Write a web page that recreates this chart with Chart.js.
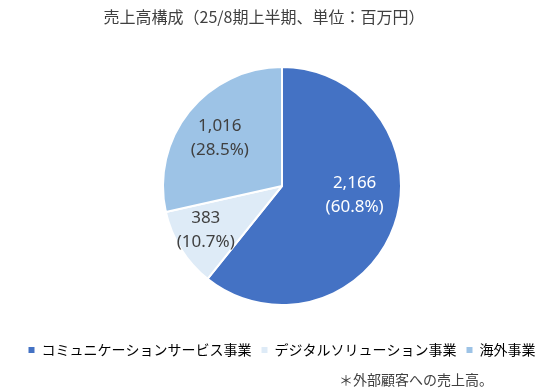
<!DOCTYPE html>
<html lang="ja">
<head>
<meta charset="UTF-8">
<title>売上高構成</title>
<script src="https://cdn.jsdelivr.net/npm/chart.js"></script>
<style>
  body { margin: 0; background: #ffffff; }
</style>
</head>
<body>
<canvas id="salesChart" width="547" height="391"></canvas>
<script>
// データ（百万円）
var segments = ['コミュニケーションサービス事業', 'デジタルソリューション事業', '海外事業'];
var sales = [2166, 383, 1016];
var shares = [60.8, 10.7, 28.5];
var colors = ['#4472C4', '#DEEBF7', '#9DC3E6'];
var titleText = '売上高構成（25/8期上半期、単位：百万円）';
var noteText = '＊外部顧客への売上高。';

var jpFont = '"Noto Sans CJK JP", "Noto Sans", sans-serif';
var textColor = '#404040';

// ラベルの置き場所: 半径の比率 r と扇形の角度の比率 t
var labelPlace = [{r: 0.615, t: 0.444}, {r: 0.74, t: 0.55}, {r: 0.66, t: 0.49}];
var labelColors = ['#ffffff', '#404040', '#404040'];

// タイトル・データラベル・注記を描くプラグイン
var textPlugin = {
    id: 'textPlugin',
    afterDatasetsDraw: function(chart) {
        var ctx = chart.ctx;
        var arcs = chart.getDatasetMeta(0).data;
        ctx.save();
        ctx.textAlign = 'center';
        ctx.textBaseline = 'middle';
        ctx.font = '17px "Noto Sans", sans-serif';
        arcs.forEach(function(arc, i) {
            var p = labelPlace[i];
            var a = arc.startAngle + (arc.endAngle - arc.startAngle) * p.t;
            var r = arc.outerRadius * p.r;
            var x = arc.x + Math.cos(a) * r;
            var y = arc.y + Math.sin(a) * r;
            ctx.fillStyle = labelColors[i];
            ctx.fillText(sales[i].toLocaleString('en-US'), x, y - 12);
            ctx.fillText('(' + shares[i].toFixed(1) + '%)', x, y + 12);
        });

        ctx.fillStyle = textColor;
        ctx.font = '16px ' + jpFont;
        ctx.fillText(titleText, 264, 17);

        ctx.textAlign = 'left';
        ctx.font = '14px ' + jpFont;
        ctx.fillText(noteText, 339, 380);
        ctx.restore();
    }
};

var ctx = document.getElementById('salesChart').getContext('2d');
var chart = new Chart(ctx, {
    type: 'pie',
    data: {
        labels: segments,
        datasets: [{
            data: sales,
            backgroundColor: colors,
            borderColor: '#ffffff',
            borderWidth: 2,
            hoverOffset: 0
        }]
    },
    options: {
        responsive: false,
        animation: false,
        events: [],
        radius: 119,
        layout: {
            padding: {top: 39, bottom: 24, left: 17, right: 0}
        },
        plugins: {
            tooltip: {enabled: false},
            legend: {
                position: 'bottom',
                labels: {
                    boxWidth: 6,
                    boxHeight: 6,
                    padding: 10,
                    color: textColor,
                    font: {family: jpFont, size: 14},
                    generateLabels: function() {
                        return segments.map(function(name, i) {
                            return {
                                text: name,
                                fillStyle: colors[i],
                                strokeStyle: colors[i],
                                lineWidth: 0,
                                hidden: false,
                                index: i
                            };
                        });
                    }
                }
            }
        }
    },
    plugins: [textPlugin]
});
</script>
</body>
</html>
